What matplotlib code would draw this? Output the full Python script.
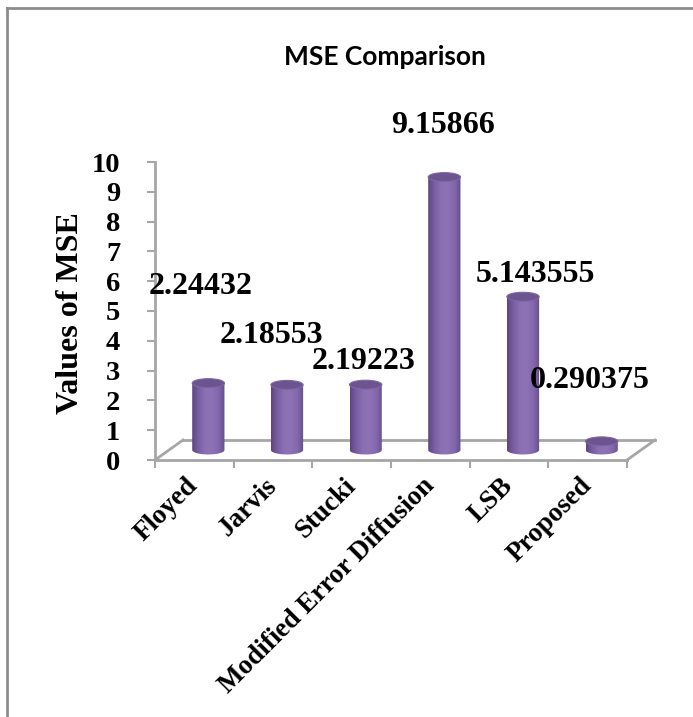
import numpy as np
import matplotlib
matplotlib.use("Agg")
import matplotlib.pyplot as plt
from matplotlib.patches import Polygon, Ellipse
from matplotlib.lines import Line2D
from matplotlib.colors import LinearSegmentedColormap

# ---- data ----
categories = ["Floyed", "Jarvis", "Stucki", "Modified Error Diffusion", "LSB", "Proposed"]
mse_values = [2.24432, 2.18553, 2.19223, 9.15866, 5.143555, 0.290375]
value_labels = ["2.24432", "2.18553", "2.19223", "9.15866", "5.143555", "0.290375"]
y_ticks = list(range(0, 11))

# ---- layout (data coords of label text centres) ----
label_pos = [(0.585, 5.81), (1.474, 4.19), (2.656, 3.29),
             (3.66, 11.21), (4.83, 6.21), (5.53, 2.68)]

W, H = 693, 717
fig = plt.figure(figsize=(W / 100, H / 100), dpi=100)
fig.patch.set_facecolor("white")

# axes mapping: x 0..6 -> px 155..627, y 0..10 -> px 460..162
ax = fig.add_axes([155 / W, 1 - 460 / H, 472 / W, 298 / H])
ax.set_xlim(0, 6)
ax.set_ylim(0, 10)
ax.set_facecolor("none")

grey = "#A6A6A6"
serif = "Liberation Serif"

# depth offsets (3-D floor)
ddx, ddy = 0.356, 0.67
n = len(categories)

# floor
ax.plot([ddx, n + ddx], [ddy, ddy], color=grey, lw=2, clip_on=False, zorder=1)
ax.plot([0, ddx], [0, ddy], color=grey, lw=2, clip_on=False, zorder=1)
ax.plot([n, n + ddx], [0, ddy], color=grey, lw=2, clip_on=False, zorder=1)

for s in ["top", "right"]:
    ax.spines[s].set_visible(False)
for s in ["left", "bottom"]:
    ax.spines[s].set_color(grey)
    ax.spines[s].set_linewidth(2)

ax.set_yticks(y_ticks)
ax.set_yticklabels([str(t) for t in y_ticks], fontsize=20.5, fontweight="bold",
                   family=serif)
ax.tick_params(axis="y", direction="out", length=6, width=1.5, color=grey, pad=19)

ax.set_xticks(np.arange(0, n + 1))
ax.set_xticklabels([])
ax.tick_params(axis="x", which="major", direction="out", length=6, width=1.5,
               color=grey)
ax.set_xticks(np.arange(n) + 0.5, minor=True)
ax.set_xticklabels(categories, minor=True, rotation=45, ha="right", va="center",
                   rotation_mode="anchor", fontsize=19.5, fontweight="bold",
                   family=serif)
ax.tick_params(axis="x", which="minor", length=0, pad=16)

# cylinders
cmap = LinearSegmentedColormap.from_list(
    "cyl", ["#5C4580", "#7A5EA3", "#8C70B4", "#8E72B6", "#8468AD", "#664D8C"])
grad = np.linspace(0, 1, 256).reshape(1, -1)
bw = 0.41
eh = 0.30
base = ddy / 2
for i, v in enumerate(mse_values):
    xc = i + 0.5 + ddx / 2
    x0, x1 = xc - bw / 2, xc + bw / 2
    top = v + base
    t = np.linspace(np.pi, 2 * np.pi, 60)
    arc = np.column_stack([xc + bw / 2 * np.cos(t), base + eh / 2 * np.sin(t)])
    pts = np.vstack([[x0, top], arc, [x1, top]])
    body = Polygon(pts, closed=True, facecolor="none", edgecolor="none",
                   zorder=3, clip_on=False)
    ax.add_patch(body)
    im = ax.imshow(grad, cmap=cmap, aspect="auto",
                   extent=(x0, x1, base - eh, top + eh), zorder=3,
                   interpolation="bilinear")
    im.set_clip_path(body)
    cap = Ellipse((xc, top), bw, eh, angle=0, facecolor="#6C5491",
                  edgecolor="#7E66A3", lw=0.8, zorder=4, clip_on=False)
    ax.add_patch(cap)

ax.set_xlim(0, 6)
ax.set_ylim(0, 10)

# value labels
for (lx, ly), txt in zip(label_pos, value_labels):
    ax.text(lx, ly, txt, ha="center", va="center", fontsize=23,
            fontweight="bold", family=serif, clip_on=False, zorder=5)

# title and axis title
fig.text(385 / W, 1 - 57 / H, "MSE Comparison", ha="center", va="center",
         fontsize=19, fontweight="bold", family="Lato")
fig.text(71 / W, 1 - 313 / H, "Values of MSE", ha="center", va="center",
         rotation=90, fontsize=23, fontweight="bold", family=serif)

# outer frame (left and top edges visible)
fig.add_artist(Line2D([7 / W, 7 / W], [0, 1 - 8 / H], transform=fig.transFigure,
                      color="#8C8C8C", lw=2))
fig.add_artist(Line2D([7 / W, 1], [1 - 8 / H, 1 - 8 / H], transform=fig.transFigure,
                      color="#8C8C8C", lw=2))

fig.savefig("out.png", dpi=100, facecolor="white")
